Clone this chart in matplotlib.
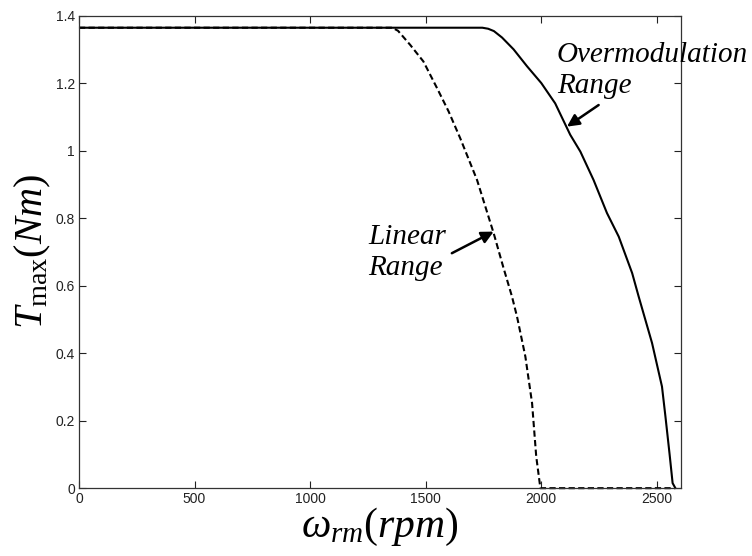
import matplotlib
matplotlib.use("Agg")
import matplotlib.pyplot as plt

plt.rcParams.update({"font.family": "Liberation Sans", "mathtext.fontset": "custom",
                     "mathtext.rm": "Liberation Serif", "mathtext.it": "Liberation Serif:italic",
                     "xtick.direction": "in", "ytick.direction": "in",
                     "xtick.top": True, "ytick.right": True})

# max torque vs rotor speed
SPEED_OVM = [0, 1745, 1770, 1795, 1830, 1880, 1938, 2000, 2060, 2125, 2169, 2226, 2284,
             2335, 2393, 2421, 2479, 2522, 2537, 2555, 2568, 2580]
TMAX_OVM = [1.364, 1.364, 1.361, 1.354, 1.335, 1.300, 1.250, 1.200, 1.140, 1.047, 0.997,
            0.913, 0.815, 0.745, 0.637, 0.568, 0.430, 0.301, 0.212, 0.100, 0.015, 0.0]
SPEED_LIN = [0, 1355, 1380, 1433, 1490, 1549, 1599, 1649, 1722, 1794, 1835, 1873,
             1895, 1931, 1960, 1978, 1996, 2580]
TMAX_LIN = [1.364, 1.364, 1.355, 1.313, 1.264, 1.185, 1.116, 1.037, 0.913, 0.755, 0.656,
            0.568, 0.508, 0.390, 0.252, 0.094, 0.0, 0.0]
XTICKS = [0, 500, 1000, 1500, 2000, 2500]
YTICKS = [0, 0.2, 0.4, 0.6, 0.8, 1, 1.2, 1.4]
YTICKLABELS = ["0", "0.2", "0.4", "0.6", "0.8", "1", "1.2", "1.4"]

fig = plt.figure(figsize=(7.52, 5.56), dpi=100)
ax = fig.add_axes([0.105, 0.122, 0.8005, 0.850])

ax.plot(SPEED_LIN, TMAX_LIN, color="black", lw=1.5, ls=(0, (3, 1.6)), clip_on=False)
ax.plot(SPEED_OVM, TMAX_OVM, color="black", lw=1.5)

ax.set_xlim(0, 2604); ax.set_ylim(0, 1.4)
ax.set_xticks(XTICKS); ax.set_yticks(YTICKS); ax.set_yticklabels(YTICKLABELS)
ax.tick_params(labelsize=10, length=5, width=0.8, colors="#222222", pad=3)
for s in ax.spines.values():
    s.set_linewidth(0.9); s.set_color("#333333")

ax.set_xlabel(r"$\omega_{rm}(rpm)$", fontsize=30, labelpad=0)
ax.set_ylabel(r"$T_{\mathrm{max}}(Nm)$", fontsize=29, labelpad=2)

ann = dict(fontsize=21, family="Liberation Serif", style="italic", ha="left", va="baseline",
           linespacing=1.25)
ax.text(2068, 1.170, "Overmodulation\nRange", **ann)
ax.text(1252, 0.632, "Linear\nRange", **ann)
arrow = dict(arrowstyle="-|>", color="black", lw=1.8, mutation_scale=18, shrinkA=0, shrinkB=0)
ax.annotate("", xy=(2111, 1.071), xytext=(2248, 1.135), arrowprops=arrow)
ax.annotate("", xy=(1794, 0.760), xytext=(1613, 0.696), arrowprops=arrow)

fig.savefig("out.png", dpi=100)
